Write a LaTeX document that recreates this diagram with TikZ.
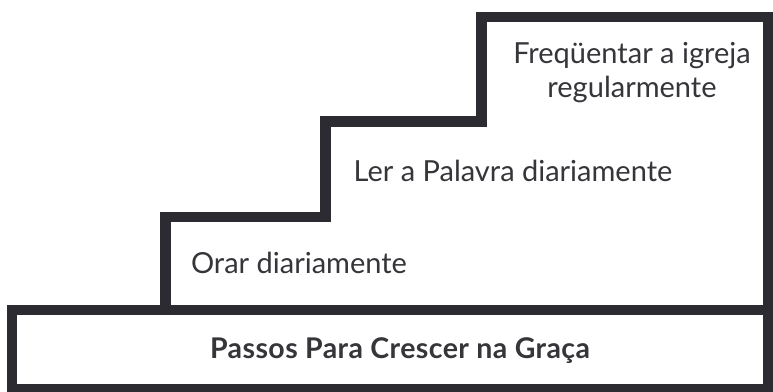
\documentclass[tikz,border=0pt]{standalone}
\usepackage{fontspec}
\setmainfont{Lato}
\definecolor{stairline}{HTML}{2B2B31}
\definecolor{txt}{HTML}{35353A}
\begin{document}
\begin{tikzpicture}[x=1pt,y=-1pt,
  stair/.style={draw=stairline,line width=10.5pt,line join=miter,line cap=rect},
  label/.style={text=txt,font=\fontsize{29}{34}\selectfont,inner sep=0pt,anchor=base},
  title/.style={text=txt,font=\fontsize{28.5}{34}\selectfont\bfseries\addfontfeature{LetterSpace=1.5},inner sep=0pt,anchor=base}]
\useasboundingbox[fill=white] (0,0) rectangle (773,391);
% base box
\draw[stair] (12,310) rectangle (768,389);
% steps
\draw[stair] (165.5,310) -- (165.5,217) -- (325.5,217) -- (325.5,121.5)
  -- (481.5,121.5) -- (481.5,17) -- (768,17) -- (768,310);
\node[label] (s1) at (299,273) {Orar diariamente};
\node[label] (s2) at (513,181) {Ler a Palavra diariamente};
\node[label] (s3a) at (632,63) {Freqüentar a igreja};
\node[label] (s3b) at (632,97) {regularmente};
\node[title] (base) at (400,358) {Passos Para Crescer na Graça};
\end{tikzpicture}
\end{document}
